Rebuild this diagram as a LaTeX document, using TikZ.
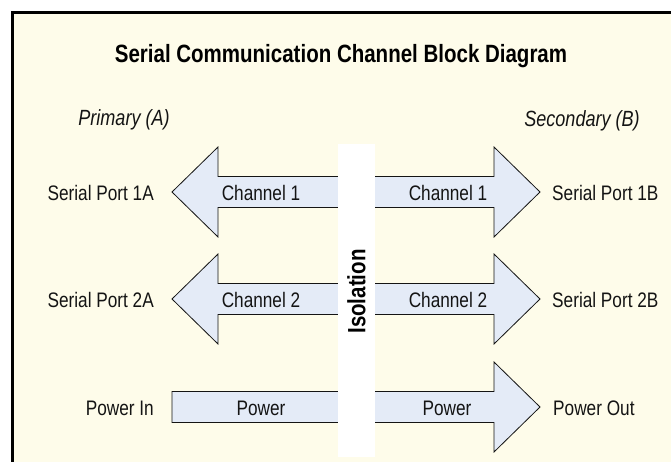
\documentclass[tikz,border=0pt]{standalone}
\usepackage{fontspec}
\setmainfont{Liberation Sans}[FakeStretch=0.82]
\def\twowayarrow#1{(172,#1) -- ++(46,-45) -- ++(0,29.5) -- ++(276,0) -- ++(0,-29.5) -- ++(46,45) -- ++(-46,45) -- ++(0,-29.5) -- ++(-276,0) -- ++(0,29.5) -- cycle}
\def\onewayarrow#1{(172,{#1-15.5}) -- ++(322,0) -- ++(0,-29.5) -- ++(46,45) -- ++(-46,45) -- ++(0,-29.5) -- ++(-322,0) -- cycle}
\definecolor{panel}{RGB}{254,252,234}
\definecolor{chanfill}{RGB}{228,235,247}
\definecolor{ink}{RGB}{20,20,20}
\tikzset{chan/.style={fill=chanfill, draw=ink, line width=0.8pt},
	txt/.style={inner sep=0pt, text=ink, font=\fontsize{21}{25}\selectfont},
	side/.style={txt, font=\fontsize{22}{26}\selectfont\itshape},
	heading/.style={inner sep=0pt, text=black, font=\fontsize{25}{30}\selectfont\bfseries}}

\begin{document}
\begin{tikzpicture}[x=1pt,y=-1pt]
		\useasboundingbox (0,0) rectangle (671,462);
		\begin{scope}
			\clip (0,0) rectangle (671,462);
			\fill[panel] (12.5,12.5) rectangle (690,480);
			\draw[line width=3pt] (12.5,480) -- (12.5,12.5) -- (690,12.5);
		\end{scope}
		\node[heading] (title) at (341,56) {Serial Communication Channel Block Diagram};
		\node[side] (prim) at (124,120) {Primary (A)};
		\node[side] (sec) at (582,121) {Secondary (B)};
		
		\draw[chan] \twowayarrow{192};
		\draw[chan] \twowayarrow{299};
		\draw[chan] \onewayarrow{407};
		\fill[white] (338,144) rectangle (375,457);
		\node[heading, rotate=90] (iso) at (356.5,291.5) {Isolation};
		
		\node[txt, anchor=east] (p1a) at (154,193) {Serial Port 1A};
		\node[txt, anchor=east] (p2a) at (154,300) {Serial Port 2A};
		\node[txt, anchor=east] (pin) at (154,408) {Power In};
		\node[txt] (c1a) at (261,193) {Channel 1};
		\node[txt] (c2a) at (261,300) {Channel 2};
		\node[txt] (pwa) at (261,408) {Power};
		\node[txt] (c1b) at (448,193) {Channel 1};
		\node[txt] (c2b) at (448,300) {Channel 2};
		\node[txt] (pwb) at (447,408) {Power};
		\node[txt, anchor=west] (p1b) at (552,193) {Serial Port 1B};
		\node[txt, anchor=west] (p2b) at (552,300) {Serial Port 2B};
		\node[txt, anchor=west] (pout) at (553,408) {Power Out};
		\end{tikzpicture}
\end{document}
